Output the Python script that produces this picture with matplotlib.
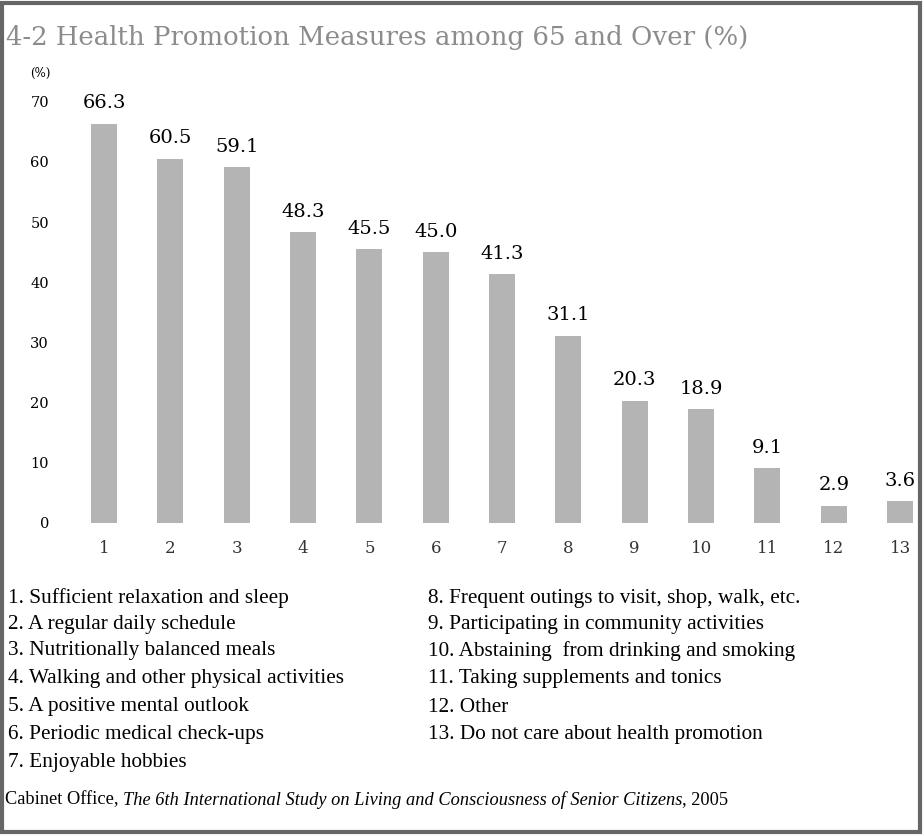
import matplotlib.pyplot as plt
from matplotlib.patches import Rectangle

categories = list(range(1, 14))
values = [66.3, 60.5, 59.1, 48.3, 45.5, 45.0, 41.3, 31.1, 20.3, 18.9, 9.1, 2.9, 3.6]
yticks = [0, 10, 20, 30, 40, 50, 60, 70]

legend_left = [
    "1. Sufficient relaxation and sleep",
    "2. A regular daily schedule",
    "3. Nutritionally balanced meals",
    "4. Walking and other physical activities",
    "5. A positive mental outlook",
    "6. Periodic medical check-ups",
    "7. Enjoyable hobbies",
]
legend_right = [
    "8. Frequent outings to visit, shop, walk, etc.",
    "9. Participating in community activities",
    "10. Abstaining  from drinking and smoking",
    "11. Taking supplements and tonics",
    "12. Other",
    "13. Do not care about health promotion",
]

W, H = 924, 836
fig = plt.figure(figsize=(W / 100, H / 100), dpi=100)
fig.patch.set_facecolor("white")

# 0 at y=523 px, ~6.02 px per unit
ax = fig.add_axes([60 / W, 1 - 523 / H, 860 / W, 72 * 6.02 / H])
ax.bar(categories, values, width=0.39, color="#b4b4b4")
for x, v in zip(categories, values):
    ax.text(x, v + 1.9, f"{v:.1f}", ha="center", va="bottom",
            family="DejaVu Serif", fontsize=14)

ax.set_xlim(0.336, 13.3)
ax.set_ylim(0, 72)
ax.set_yticks(yticks)
ax.set_xticks(categories)
ax.tick_params(length=0)
ax.tick_params(axis="y", pad=8)
ax.tick_params(axis="x", pad=12)
for lab in ax.get_yticklabels():
    lab.set_family("DejaVu Serif")
    lab.set_fontsize(10.5)
for lab in ax.get_xticklabels():
    lab.set_family("DejaVu Serif")
    lab.set_fontsize(12)
    lab.set_color("#333333")
for s in ax.spines.values():
    s.set_visible(False)

fig.text(40 / W, 1 - 73 / H, "(%)", ha="center", va="center",
         family="DejaVu Serif", fontsize=8.5)

fig.text(6 / W, 1 - 37 / H, "4-2 Health Promotion Measures among 65 and Over (%)",
         ha="left", va="center", family="DejaVu Serif", fontsize=18.7, color="#8c8c8c")

row_y = [598, 624, 651, 679, 707, 734, 762]
for t, y in zip(legend_left, row_y):
    fig.text(8 / W, 1 - y / H, t, ha="left", va="center",
             family="Liberation Serif", fontsize=15.3)
for t, y in zip(legend_right, row_y):
    fig.text(428 / W, 1 - y / H, t, ha="left", va="center",
             family="Liberation Serif", fontsize=15.3)

# source line: normal + italic + normal
fig.canvas.draw()
r = fig.canvas.get_renderer()
x0 = 5
parts = [("Cabinet Office, ", "normal"),
         ("The 6th International Study on Living and Consciousness of Senior Citizens", "italic"),
         (", 2005", "normal")]
for txt, st in parts:
    tt = fig.text(x0 / W, 1 - 800 / H, txt, ha="left", va="center",
                  family="Liberation Serif", fontsize=13.2, style=st)
    bb = tt.get_window_extent(renderer=r)
    x0 += bb.width

fig.patches.append(Rectangle((2 / W, 4 / H), 918 / W, 829 / H, transform=fig.transFigure,
                             fill=False, edgecolor="#666666", linewidth=3))

fig.savefig("out.png", dpi=100)
